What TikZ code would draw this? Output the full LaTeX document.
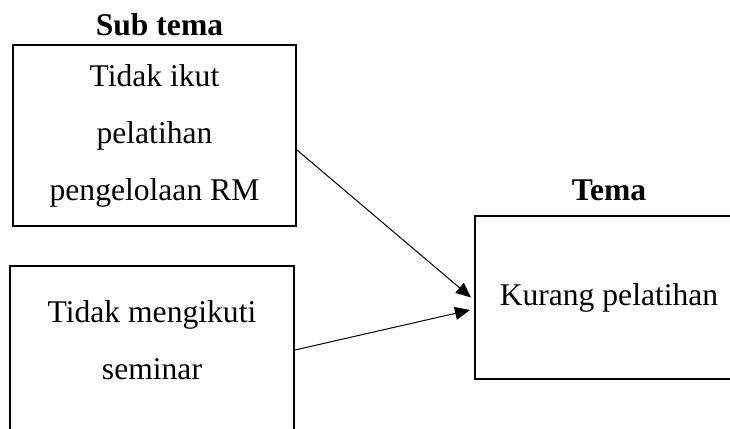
\documentclass[tikz,border=0pt]{standalone}
\usepackage{fontspec}
\setmainfont{Liberation Serif}
\usetikzlibrary{positioning,arrows.meta}
\tikzset{
temabox/.style={
	draw, line width=1pt, rectangle, align=center,
	  font=\fontsize{15.8}{28.5}\selectfont, inner sep=0pt},
judul/.style={font=\fontsize{15.8}{19}\selectfont\bfseries, inner sep=0pt},
panah/.style={-{Triangle[length=7.5pt,width=6.5pt]}, line width=0.5pt}
}

\begin{document}
\begin{tikzpicture}[x=0.5pt,y=-0.5pt]
	\useasboundingbox (0,0) rectangle (730,429);
	% kotak sub tema
	\node[temabox, minimum width=141.5pt, minimum height=90.5pt] (sub1) at (154.5,135.5)
		{Tidak ikut\\pelatihan\\pengelolaan RM};
	\node[temabox, minimum width=142pt, minimum height=111pt] (sub2) at (152,377)
		{Tidak mengikuti\\seminar\\\strut};
	% kotak tema
	\node[temabox, minimum width=134pt, minimum height=81.5pt] (tema) at (609,297.5)
		{Kurang pelatihan};
	\node[judul, above=4pt of sub1, xshift=2.5pt] (judulsub) {Sub tema};
	\node[judul, above=7pt of tema] (judultema) {Tema};

	\draw[panah] ([yshift=-7.25pt]sub1.east) -- ([xshift=-1.5pt]tema.west);
	\draw[panah] ([yshift=13.5pt]sub2.east) -- ([xshift=-2pt,yshift=-6.25pt]tema.west);
\end{tikzpicture}
\end{document}
